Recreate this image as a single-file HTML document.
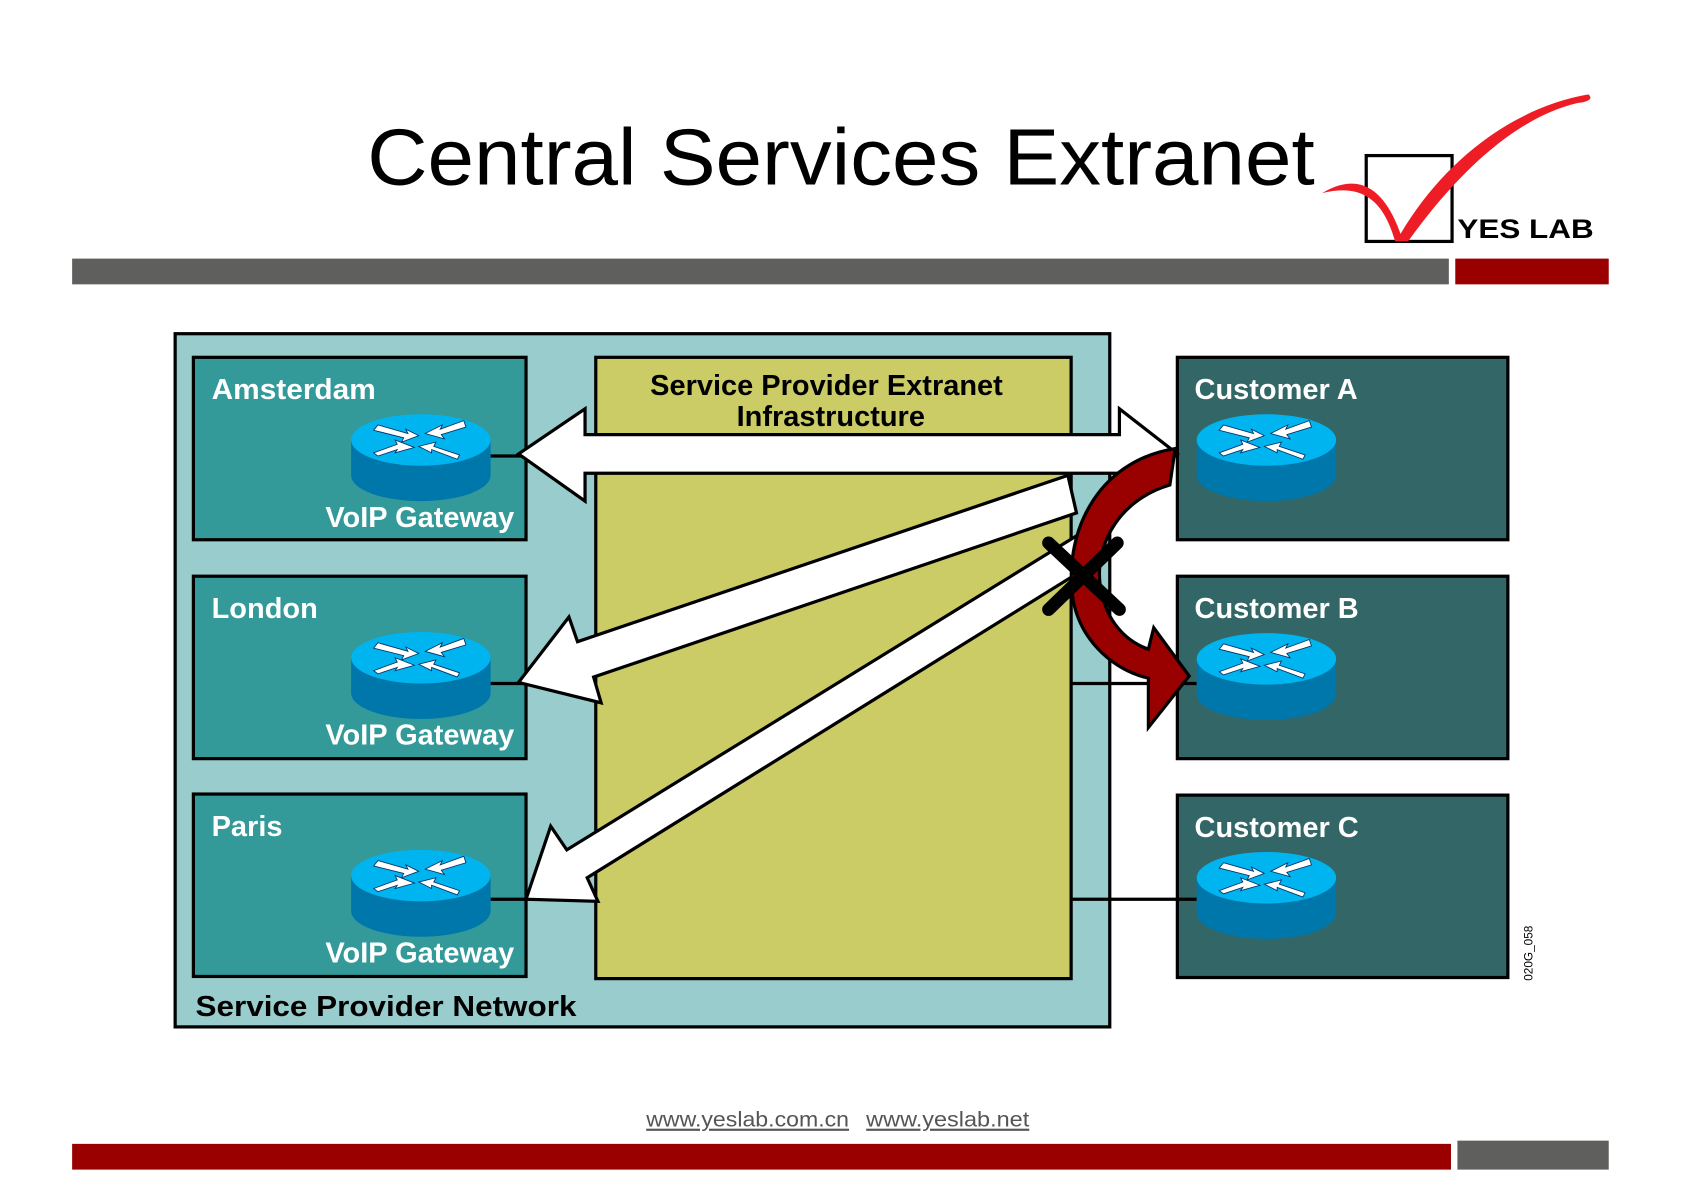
<!DOCTYPE html>
<html><head><meta charset="utf-8"><style>
html,body{margin:0;padding:0;background:#fff;}
svg{display:block;}
text{font-family:"Liberation Sans",sans-serif;}
</style></head><body>
<svg width="1683" height="1190" viewBox="0 0 1568 1109" xmlns="http://www.w3.org/2000/svg">
<defs>
<g id="rt">
<path d="M-65,0 L-65,33 A65,24 0 0 0 65,33 L65,0 Z" fill="#0077aa"/>
<ellipse cx="0" cy="0" rx="65" ry="24" fill="#00b4f0"/>
<g fill="#fff" stroke="#036" stroke-width="0.8">
<path d="M-40,-14 L-12,-6 L-14,-10 L-2,-4 L-18,2 L-16,-2 L-44,-9 Z"/>
<path d="M40,-18 L18,-10 L20,-14 L4,-6 L22,-1 L19,-5 L42,-12 Z"/>
<path d="M-44,12 L-22,4 L-24,0 L-6,7 L-24,12 L-22,9 L-40,15 Z"/>
<path d="M36,14 L12,6 L14,2 L-2,6 L10,12 L10,9 L34,18 Z"/>
</g>
</g>
</defs>
<text x="342" y="172" font-size="74" fill="#000" textLength="883" lengthAdjust="spacingAndGlyphs">Central Services Extranet</text>
<rect x="67" y="241" width="1283" height="24" fill="#5f605e"/>
<rect x="1356" y="241" width="143" height="24" fill="#9b0000"/>
<rect x="1273" y="145" width="80" height="80" fill="none" stroke="#000" stroke-width="3"/>
<path d="M1232,180 C1262,162 1288,170 1305,218 C1345,150 1410,100 1480,88 C1485,92 1480,95 1470,96 C1410,110 1355,165 1312,225 L1300,225 C1290,190 1272,170 1232,180 Z" fill="#ee1c24"/>
<text x="1358" y="222" font-size="25" font-weight="bold" fill="#000" textLength="127" lengthAdjust="spacingAndGlyphs">YES LAB</text>
<rect x="67" y="1066" width="1285" height="24" fill="#9b0000"/>
<rect x="1358" y="1063" width="141" height="27" fill="#5f605e"/>
<text x="602" y="1050" font-size="20" fill="#555" text-decoration="underline" textLength="189" lengthAdjust="spacingAndGlyphs">www.yeslab.com.cn</text>
<text x="807" y="1050" font-size="20" fill="#555" text-decoration="underline" textLength="152" lengthAdjust="spacingAndGlyphs">www.yeslab.net</text>

<rect x="163" y="311" width="871" height="646" fill="#99cccc" stroke="#000" stroke-width="3"/>
<rect x="555" y="333" width="443" height="579" fill="#cccc66" stroke="#000" stroke-width="3"/>
<g fill="#339999" stroke="#000" stroke-width="3">
<rect x="180" y="333" width="310" height="170"/>
<rect x="180" y="537" width="310" height="170"/>
<rect x="180" y="740" width="310" height="170"/>
</g>
<g fill="#336666" stroke="#000" stroke-width="3">
<rect x="1097" y="333" width="308" height="170"/>
<rect x="1097" y="537" width="308" height="170"/>
<rect x="1097" y="741" width="308" height="170"/>
</g>
<g stroke="#000" stroke-width="3">
<line x1="457" y1="425" x2="490" y2="425"/>
<line x1="457" y1="637" x2="555" y2="637"/>
<line x1="457" y1="838" x2="555" y2="838"/>
<line x1="998" y1="637" x2="1115" y2="637"/>
<line x1="998" y1="838" x2="1115" y2="838"/>
</g>
<g font-size="27" font-weight="bold" fill="#fff">
<text x="197" y="372" textLength="153" lengthAdjust="spacingAndGlyphs">Amsterdam</text>
<text x="197" y="576">London</text>
<text x="197" y="779">Paris</text>
<text x="303" y="491">VoIP Gateway</text>
<text x="303" y="694">VoIP Gateway</text>
<text x="303" y="897">VoIP Gateway</text>
<text x="1113" y="372">Customer A</text>
<text x="1113" y="576">Customer B</text>
<text x="1113" y="780">Customer C</text>
</g>
<text x="770" y="368" font-size="27" font-weight="bold" text-anchor="middle">Service Provider Extranet</text>
<text x="774" y="397" font-size="27" font-weight="bold" text-anchor="middle">Infrastructure</text>
<text x="182" y="947" font-size="27" font-weight="bold" textLength="355" lengthAdjust="spacingAndGlyphs">Service Provider Network</text>
<text transform="translate(1428,914) rotate(-90)" font-size="11" fill="#000">020G_058</text>

<use href="#rt" x="392" y="410"/>
<use href="#rt" x="392" y="613"/>
<use href="#rt" x="392" y="816"/>
<use href="#rt" x="1180" y="410"/>
<use href="#rt" x="1180" y="614"/>
<use href="#rt" x="1180" y="818"/>

<g fill="#fff" stroke="#000" stroke-width="3" stroke-linejoin="miter">
<polygon points="483,423 545,381 545,405 1043,405 1043,381 1097,423 1043,467 1043,441 545,441 545,467"/>
<polygon points="995,443 538,598 530,575 483,636 560,655 553,631 1003,478"/>
<polygon points="1002,500 528,792 513,770 490,838 557,840 547,818 1014,528"/>
</g>
<path d="M1095,418 C1020,430 990,500 1000,560 C1008,600 1040,625 1070,632 L1070,678 L1108,630 L1075,585 L1070,605 C1050,598 1030,580 1025,545 C1020,505 1045,465 1090,452 Z" fill="#990000" stroke="#000" stroke-width="3"/>
<g stroke="#000" stroke-width="12" stroke-linecap="round">
<line x1="977" y1="506" x2="1043" y2="568"/>
<line x1="977" y1="568" x2="1041" y2="506"/>
</g>
</svg>
</body></html>
